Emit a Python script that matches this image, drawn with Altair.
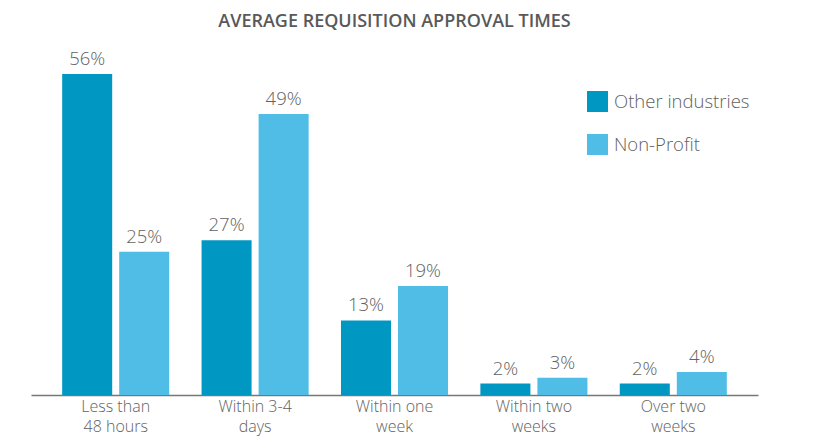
import altair as alt
import pandas as pd

categories = ["Less than|48 hours", "Within 3-4|days", "Within one|week",
              "Within two|weeks", "Over two|weeks"]
series = ["Other industries", "Non-Profit"]
other_industries = [56, 27, 13, 2, 2]
non_profit = [25, 49, 19, 3, 4]
colors = ["#0097C3", "#4FBDE6"]

rows = []
for c, a, b in zip(categories, other_industries, non_profit):
    rows.append({"category": c, "series": series[0], "value": a, "label": f"{a}%"})
    rows.append({"category": c, "series": series[1], "value": b, "label": f"{b}%"})
df = pd.DataFrame(rows)

FONT = "Open Sans"
GREY = "#626262"

x = alt.X(
    "category:N",
    sort=categories,
    scale=alt.Scale(paddingInner=0.232, paddingOuter=0.2236),
    axis=alt.Axis(
        title=None,
        labelExpr="split(datum.value, '|')",
        labelAngle=0,
        labelFont=FONT,
        labelFontSize=16,
        labelFontWeight=300,
        labelColor=GREY,
        labelLineHeight=20,
        labelPadding=3,
        ticks=False,
        domainColor="#777777",
        domainWidth=1.5,
        grid=False,
    ),
)
xo = alt.XOffset("series:N", sort=series, scale=alt.Scale(paddingInner=0.123))
y = alt.Y("value:Q", scale=alt.Scale(domain=[0, 60]), axis=None)

bars = alt.Chart(df).mark_bar().encode(
    x=x,
    xOffset=xo,
    y=y,
    color=alt.Color(
        "series:N",
        sort=series,
        scale=alt.Scale(domain=series, range=colors),
        legend=alt.Legend(
            title=None,
            orient="none",
            legendX=556,
            legendY=40,
            symbolType="square",
            symbolSize=441,
            symbolStrokeWidth=0,
            symbolOpacity=1,
            labelFont=FONT,
            labelFontSize=18.5,
            labelFontWeight=300,
            labelColor=GREY,
            labelOffset=6,
            rowPadding=22,
            padding=0,
        ),
    ),
)

labels = alt.Chart(df).mark_text(
    dy=-9, baseline="alphabetic", fontSize=18.5, font=FONT, fontWeight=300, color=GREY
).encode(x=x, xOffset=xo, y=y, text="label:N")

chart = (
    alt.layer(bars, labels)
    .properties(
        width=727,
        height=344,
        title=alt.Title(
            "AVERAGE REQUISITION APPROVAL TIMES",
            font=FONT,
            fontSize=18,
            fontWeight=600,
            color="#595959",
            anchor="middle",
            offset=19,
        ),
        autosize=alt.AutoSizeParams(type="none"),
        padding={"left": 23, "top": 43, "right": 64, "bottom": 41},
        background="white",
    )
    .configure_view(stroke=None)
)

chart.save("out.html", embed_options={"renderer": "svg", "actions": False})
